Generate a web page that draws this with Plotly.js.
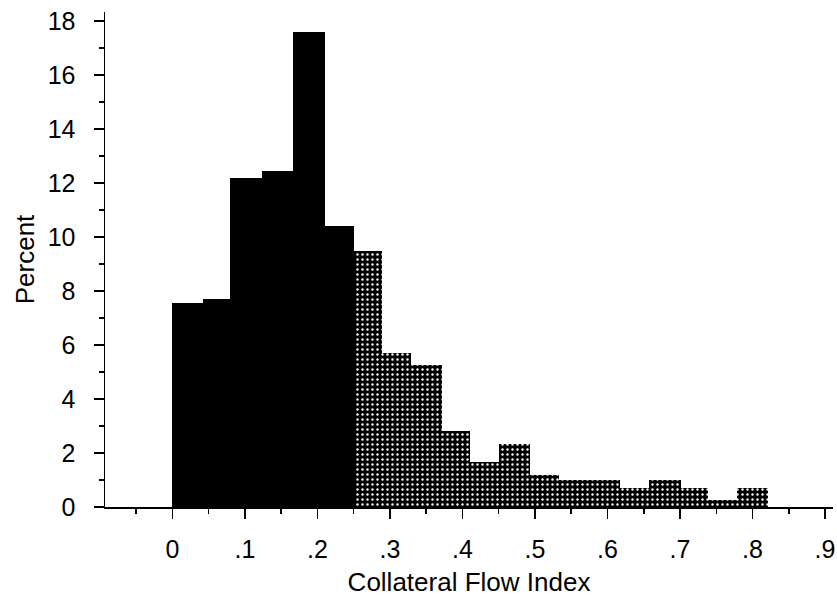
<!DOCTYPE html>
<html>
<head>
<meta charset="utf-8">
<script src="https://cdn.plot.ly/plotly-3.0.1.min.js"></script>
<style>html,body{margin:0;padding:0;background:#fff;}#chart{width:837px;height:597px;}</style>
</head>
<body>
<div id="chart"></div>
<script>
// Bin edges (Collateral Flow Index)
const binEdges = [0, 0.042, 0.080, 0.123, 0.166, 0.210, 0.251, 0.289, 0.329, 0.372, 0.411,
                  0.451, 0.493, 0.533, 0.574, 0.617, 0.657, 0.701, 0.739, 0.779, 0.821];
// Percent per bin: first 6 bins solid black, remaining bins dotted
const solidPercent = [7.56, 7.72, 12.19, 12.46, 17.59, 10.41];
const dottedPercent = [9.47, 5.72, 5.25, 2.80, 1.67, 2.32, 1.20, 1.01, 1.01, 0.72, 1.01, 0.72, 0.25, 0.72];
const xTickVals = [0, 0.1, 0.2, 0.3, 0.4, 0.5, 0.6, 0.7, 0.8, 0.9];
const xTickText = ['0', '.1', '.2', '.3', '.4', '.5', '.6', '.7', '.8', '.9'];

function centers(start, n) {
  const c = [], w = [];
  for (let i = start; i < start + n; i++) {
    c.push((binEdges[i] + binEdges[i + 1]) / 2);
    w.push(binEdges[i + 1] - binEdges[i]);
  }
  return {c, w};
}
const s = centers(0, solidPercent.length);
const d = centers(solidPercent.length, dottedPercent.length);

const traces = [
  {type: 'bar', x: s.c, y: solidPercent, width: s.w,
   marker: {color: '#000', line: {width: 0}}, hoverinfo: 'skip'},
  {type: 'bar', x: d.c, y: dottedPercent, width: d.w,
   marker: {color: '#000', line: {width: 0},
            pattern: {shape: '.', bgcolor: '#000', fgcolor: '#fff', size: 5, solidity: 0.18, fillmode: 'replace'}},
   hoverinfo: 'skip'}
];

const tickFont = {family: '"Liberation Sans", Arial, sans-serif', size: 25, color: '#000'};
const titleFont = {family: '"Liberation Sans", Arial, sans-serif', size: 26, color: '#000'};
const layout = {
  width: 837, height: 597,
  margin: {l: 105, r: 4, t: 12, b: 90},
  paper_bgcolor: '#fff', plot_bgcolor: '#fff',
  showlegend: false, bargap: 0,
  font: tickFont,
  xaxis: {
    range: [-0.093, 0.911],
    tickvals: xTickVals, ticktext: xTickText,
    ticks: 'outside', ticklen: 10, tickwidth: 1.5, tickcolor: '#000',
    ticklabelstandoff: 9,
    minor: {dtick: 0.05, tick0: 0, ticks: 'outside', ticklen: 5, tickwidth: 1.5, tickcolor: '#000'},
    showline: true, linecolor: '#000', linewidth: 1.5,
    showgrid: false, zeroline: false,
    tickfont: tickFont,
    title: {text: 'Collateral Flow Index', font: titleFont, standoff: 14}
  },
  yaxis: {
    range: [0, 18.33],
    tick0: 0, dtick: 2,
    ticks: 'outside', ticklen: 10, tickwidth: 1.5, tickcolor: '#000',
    ticklabelstandoff: 13,
    minor: {dtick: 1, tick0: 0, ticks: 'outside', ticklen: 5, tickwidth: 1.5, tickcolor: '#000'},
    showline: true, linecolor: '#000', linewidth: 1.5,
    showgrid: false, zeroline: false,
    tickfont: tickFont,
    title: {text: 'Percent', font: titleFont, standoff: 5}
  }
};
Plotly.newPlot('chart', traces, layout, {displayModeBar: false, staticPlot: true});
</script>
</body>
</html>
